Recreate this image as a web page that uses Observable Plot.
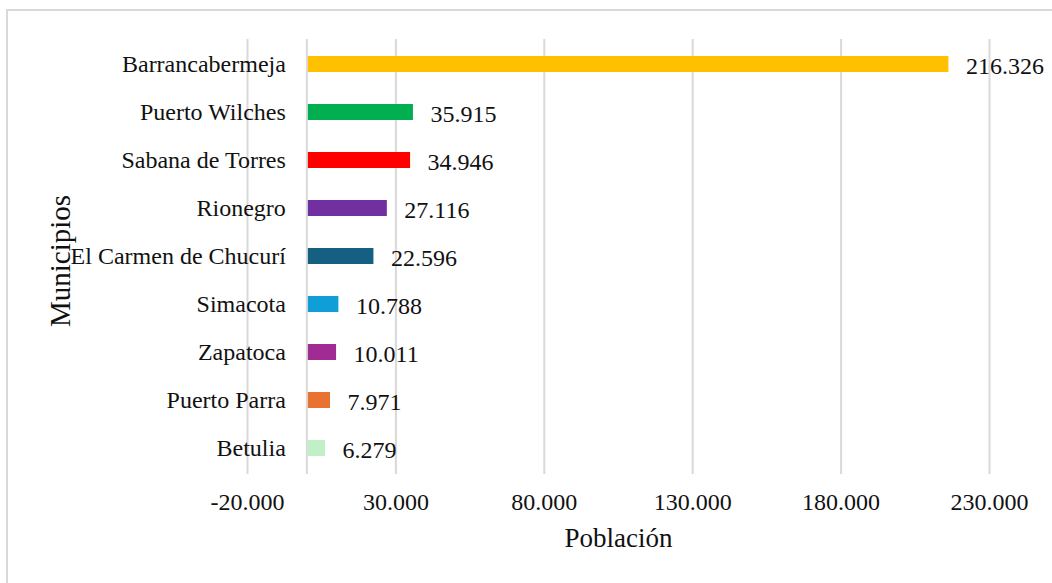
<!DOCTYPE html>
<html>
<head>
<meta charset="utf-8">
<script src="https://cdn.jsdelivr.net/npm/d3@7"></script>
<script src="https://cdn.jsdelivr.net/npm/@observablehq/plot@0.6"></script>
<style>
  html, body { margin: 0; padding: 0; background: #fff; }
  #wrap { position: relative; width: 1052px; height: 583px; overflow: hidden; background: #fff; }
  #frame { position: absolute; left: 6px; top: 9px; width: 1100px; height: 700px;
           border-top: 2px solid #d9d9d9; border-left: 2px solid #d9d9d9; }
  #chart { position: absolute; left: 0; top: 0; }
</style>
</head>
<body>
<div id="wrap"><div id="frame"></div><div id="chart"></div></div>
<script>
// ---- data ----
const municipios = ["Barrancabermeja", "Puerto Wilches", "Sabana de Torres", "Rionegro",
  "El Carmen de Chucurí", "Simacota", "Zapatoca", "Puerto Parra", "Betulia"];
const poblacion = [216326, 35915, 34946, 27116, 22596, 10788, 10011, 7971, 6279];
const xTicks = [-20000, 30000, 80000, 130000, 180000, 230000];
const barColors = ["#FFC000", "#00B050", "#FF0000", "#7030A0", "#156082",
  "#0F9ED5", "#A02B93", "#E97132", "#C1F0C8"];

const rows = municipios.map((m, i) => ({municipio: m, poblacion: poblacion[i]}));

const loc = d3.formatLocale({decimal: ",", thousands: ".", grouping: [3], currency: ["", ""], minus: "-"});
const fmt = loc.format(",");

const font = "'Liberation Serif', 'Times New Roman', serif";
const W = 1052, H = 583;
const ink = "#111";

const chart = Plot.plot({
  width: W,
  height: H,
  marginLeft: 247,
  marginRight: 63,
  marginTop: 39,
  marginBottom: 109,
  style: {fontFamily: font, fontSize: "24px", color: ink, background: "transparent"},
  x: {domain: [-20000, 230000], ticks: xTicks, tickFormat: fmt, label: null},
  y: {domain: municipios, paddingInner: 0.66, paddingOuter: 0.33, label: null, axis: null},
  color: {domain: municipios, range: barColors},
  marks: [
    Plot.gridX(xTicks, {stroke: "#d9d9d9", strokeOpacity: 1, strokeWidth: 2}),
    Plot.ruleX([0], {stroke: "#d9d9d9", strokeWidth: 2}),
    Plot.axisX(xTicks, {tickSize: 0, tickPadding: 18, tickFormat: fmt, fontSize: 24, fill: ink, label: null}),
    Plot.barX(rows, {x1: 0, x2: "poblacion", y: "municipio", fill: "municipio", insetLeft: 1.5}),
    Plot.text(rows, {x: 0, y: "municipio", text: "municipio", textAnchor: "end", dx: -21,
      fontSize: 24, fill: ink}),
    Plot.text(rows, {x: "poblacion", y: "municipio", text: d => fmt(d.poblacion), textAnchor: "start",
      dx: 17, dy: 2, fontSize: 24, fill: ink}),
    Plot.text(["Población"], {frameAnchor: "bottom", dy: 72, text: d => d, fontSize: 27, fill: ink}),
    Plot.text(["Municipios"], {frameAnchor: "left", textAnchor: "middle", dx: -187, dy: 4, rotate: -90,
      text: d => d, fontSize: 29, fill: ink})
  ]
});
document.getElementById("chart").appendChild(chart);
</script>
</body>
</html>
